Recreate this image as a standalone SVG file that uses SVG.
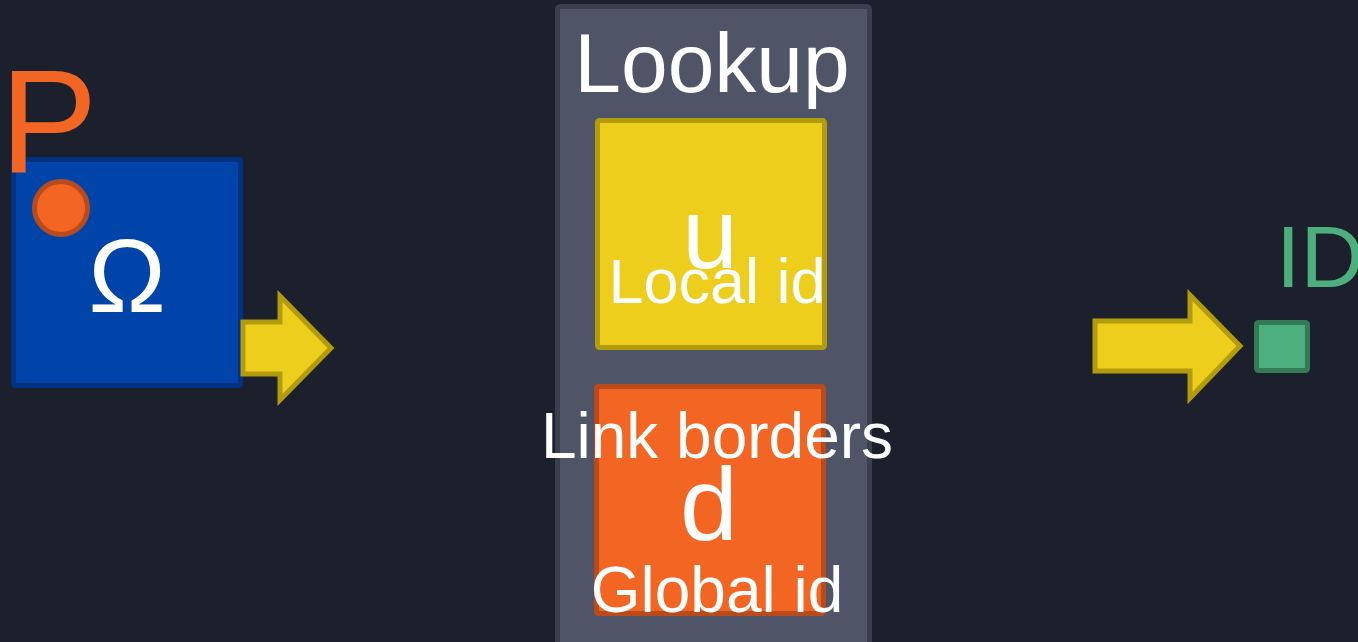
<svg xmlns="http://www.w3.org/2000/svg" width="1358" height="642" viewBox="0 0 1358 642">
  <defs>
    <style>
      .lbl { font-family: "Liberation Sans", Arial, sans-serif; fill: #ffffff; text-anchor: middle; }
      .arrow { fill: #eece1c; stroke: #b39b0e; stroke-width: 5; stroke-linejoin: miter; }
    </style>
  </defs>
  <rect x="0" y="0" width="1358" height="642" fill="#1b202c"/>

  <!-- lookup panel -->
  <g id="lookup">
    <rect x="557.5" y="6.5" width="312" height="650" rx="3" fill="#4f5567" stroke="#3a3f4e" stroke-width="5"/>
    <text class="lbl" x="712" y="92" font-size="84">Lookup</text>
  </g>

  <!-- source node -->
  <g id="source">
    <rect x="13.5" y="159.5" width="227" height="226" rx="2" fill="#0044aa" stroke="#003282" stroke-width="5"/>
    <text x="0" y="172" font-family="Liberation Sans, Arial, sans-serif" font-size="146" fill="#f26522">P</text>
    <circle cx="61" cy="208" r="26.5" fill="#f26522" stroke="#b84a1c" stroke-width="5"/>
    <text class="lbl" x="127" y="312" font-size="104">Ω</text>
  </g>

  <!-- local id node -->
  <g id="local">
    <rect x="597.5" y="120.5" width="227" height="227" rx="2" fill="#eece1c" stroke="#b39b0e" stroke-width="5"/>
    <text class="lbl" x="710" y="268" font-size="100">u</text>
    <text class="lbl" x="717" y="303" font-size="63">Local id</text>
  </g>

  <!-- global id node -->
  <g id="global">
    <rect x="596.5" y="386.5" width="227" height="227" rx="2" fill="#f26522" stroke="#b84a1c" stroke-width="5"/>
    <text class="lbl" x="717" y="458" font-size="64">Link borders</text>
    <text class="lbl" x="709" y="540" font-size="104">d</text>
    <text class="lbl" x="717" y="612" font-size="64">Global id</text>
  </g>

  <!-- output node -->
  <g id="output">
    <text x="1276" y="287" font-family="Liberation Sans, Arial, sans-serif" font-size="88" fill="#4caf7d">ID</text>
    <rect x="1256.5" y="322.5" width="51" height="48" rx="2" fill="#4caf7d" stroke="#357a56" stroke-width="5"/>
  </g>

  <!-- connectors -->
  <g id="connectors">
    <polygon class="arrow" points="243,322 280,322 280,296 331,348 280,400 280,374 243,374"/>
    <polygon class="arrow" points="1095,321 1190,321 1190,295 1240,346 1190,398 1190,371 1095,371"/>
  </g>
</svg>
